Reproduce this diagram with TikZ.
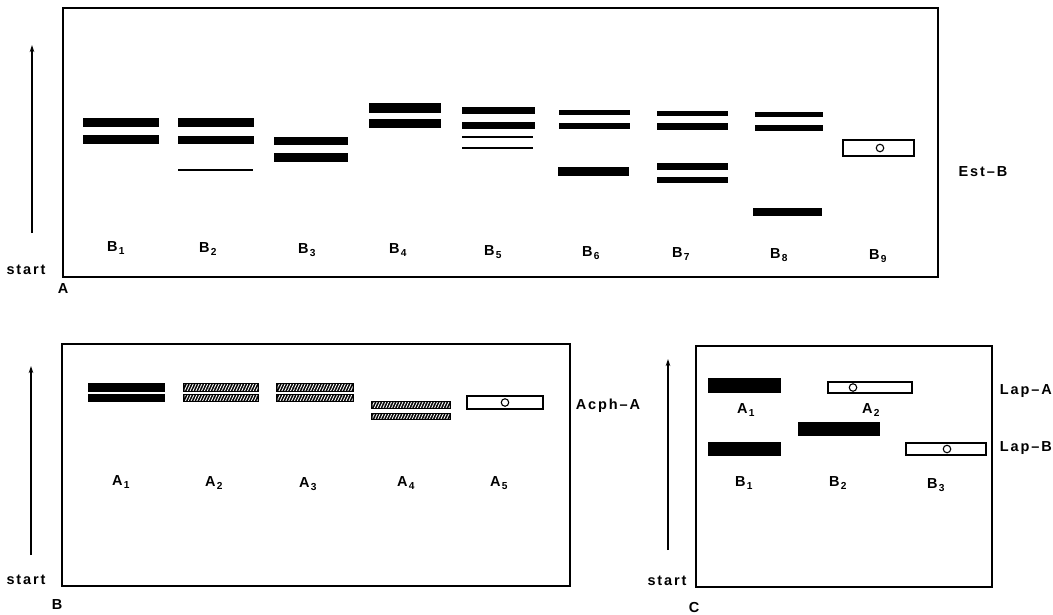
\documentclass[tikz,border=0pt]{standalone}
\usepackage{fontspec}
\setmainfont{Liberation Sans}[LetterSpace=13]
\usetikzlibrary{patterns.meta,arrows.meta}

% lane label with a detached subscript
\newcommand\lane[2]{#1\kern1.2pt\textsubscript{#2}}

\tikzset{
  x=1pt, y=-1pt,
  gelframe/.style={line width=1.4pt},
  lbl/.style={font=\bfseries\fontsize{14.5}{16}\selectfont, inner sep=0pt},
  migr/.style={-{Stealth[length=7pt,width=4.5pt]}, line width=1.1pt},
  openband/.style={draw, line width=1.1pt, fill=white},
  nullmark/.style={circle, draw, line width=1.1pt, minimum size=7.5pt, inner sep=0pt},
  faint/.style={line width=1.2pt},
  hatch/.style={pattern={Lines[angle=65,distance=2.6pt,line width=0.9pt]}, pattern color=white},
}

\begin{document}
\begin{tikzpicture}
\useasboundingbox (0,0) rectangle (1053,614);

% ---------------- panel A : Est-B ----------------
\draw[gelframe] (63,8) rectangle (938,277);
\coordinate (sA) at (32,233);
\coordinate (eA) at (32,45);
\draw[migr] (sA) -- (eA);
\node[lbl] (startA) at (26,270) {start};
\node[lbl] (panA) at (63,289) {A};
\node[lbl] (estb) at (983,172) {Est--B};

% B1
\fill (83,118) rectangle (159,127);
\fill (83,135) rectangle (159,144);
% B2
\fill (178,118) rectangle (254,127);
\fill (178,136) rectangle (254,144);
\draw[faint] (178,170) -- (253,170);
% B3
\fill (274,137) rectangle (348,144.5);
\fill (274,153) rectangle (348,161.5);
% B4
\fill (369,103) rectangle (441,113);
\fill (369,119) rectangle (441,128);
% B5
\fill (462,107) rectangle (535,114);
\fill (462,122) rectangle (535,129);
\draw[faint] (462,137) -- (533,137);
\draw[faint] (462,148) -- (533,148);
% B6
\fill (559,110) rectangle (630,114.5);
\fill (559,123) rectangle (630,129);
\fill (558,167) rectangle (629,176);
% B7
\fill (657,111) rectangle (728,115.5);
\fill (657,123) rectangle (728,129.5);
\fill (657,163) rectangle (728,170);
\fill (657,177) rectangle (728,183);
% B8
\fill (755,112) rectangle (823,116.5);
\fill (755,125) rectangle (823,131);
\fill (753,208) rectangle (822,215.5);
% B9
\draw[openband] (843,140) rectangle (914,156);
\node[nullmark] (oB9) at (880,148) {};

\node[lbl] (lB1) at (116,248) {\lane{B}{1}};
\node[lbl] (lB2) at (208,249) {\lane{B}{2}};
\node[lbl] (lB3) at (307,250) {\lane{B}{3}};
\node[lbl] (lB4) at (398,250) {\lane{B}{4}};
\node[lbl] (lB5) at (493,252) {\lane{B}{5}};
\node[lbl] (lB6) at (591,253) {\lane{B}{6}};
\node[lbl] (lB7) at (681,254) {\lane{B}{7}};
\node[lbl] (lB8) at (779,255) {\lane{B}{8}};
\node[lbl] (lB9) at (878,256) {\lane{B}{9}};

% ---------------- panel B : Acph-A ----------------
\draw[gelframe] (62,344) rectangle (570,586);
\coordinate (sB) at (31,555);
\coordinate (eB) at (31,366);
\draw[migr] (sB) -- (eB);
\node[lbl] (startB) at (26,580) {start};
\node[lbl] (panB) at (57,605) {B};
\node[lbl] (acph) at (608,406) {Acph--A};

% A1
\fill (88,383) rectangle (165,392);
\fill (88,394) rectangle (165,402);
% A2, A3 (hatched)
\foreach \xa/\xb in {183/259, 276/354}{
  \fill (\xa,383) rectangle (\xb,392);
  \fill (\xa,394) rectangle (\xb,402);
  \fill[hatch] (\xa+1.5,384.5) rectangle (\xb-1.5,390.5);
  \fill[hatch] (\xa+1.5,395.5) rectangle (\xb-1.5,400.5);
}
% A4 (hatched)
\fill (371,401) rectangle (451,409);
\fill (371,413) rectangle (451,420);
\fill[hatch] (372.5,402.5) rectangle (449.5,407.5);
\fill[hatch] (372.5,414.5) rectangle (449.5,418.5);
% A5
\draw[openband] (467,396) rectangle (543,409);
\node[nullmark] (oA5) at (505,402.5) {};

\node[lbl] (lA1) at (121,482) {\lane{A}{1}};
\node[lbl] (lA2) at (214,483) {\lane{A}{2}};
\node[lbl] (lA3) at (308,484) {\lane{A}{3}};
\node[lbl] (lA4) at (406,483) {\lane{A}{4}};
\node[lbl] (lA5) at (499,483) {\lane{A}{5}};

% ---------------- panel C : Lap-A / Lap-B ----------------
\draw[gelframe] (696,346) rectangle (992,587);
\coordinate (sC) at (668,550);
\coordinate (eC) at (668,359);
\draw[migr] (sC) -- (eC);
\node[lbl] (startC) at (667,581) {start};
\node[lbl] (panC) at (694,607) {C};
\node[lbl, anchor=east] (lapa) at (1052,391) {Lap--A};
\node[lbl, anchor=east] (lapb) at (1052,448) {Lap--B};

\fill (708,378) rectangle (781,393);
\draw[openband] (828,382) rectangle (912,393);
\node[nullmark] (oA2) at (853,387.5) {};
\fill (798,422) rectangle (880,436);
\fill (708,442) rectangle (781,456);
\draw[openband] (906,443) rectangle (986,455);
\node[nullmark] (oB3) at (947,449) {};

\node[lbl] (cA1) at (746,410) {\lane{A}{1}};
\node[lbl] (cA2) at (871,410) {\lane{A}{2}};
\node[lbl] (cB1) at (744,483) {\lane{B}{1}};
\node[lbl] (cB2) at (838,483) {\lane{B}{2}};
\node[lbl] (cB3) at (936,485) {\lane{B}{3}};
\end{tikzpicture}
\end{document}
